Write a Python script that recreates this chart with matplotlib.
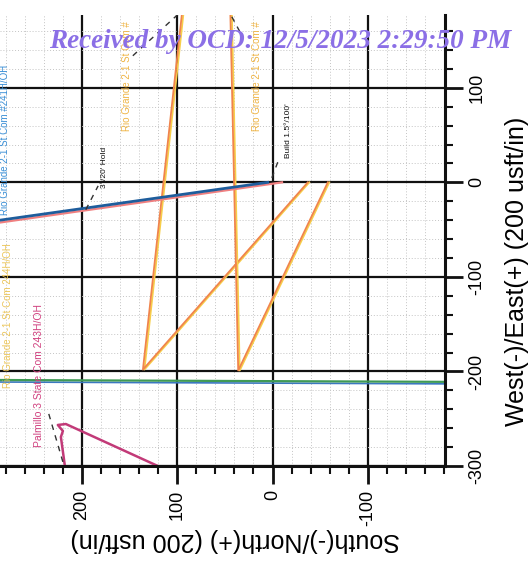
import numpy as np
import matplotlib
matplotlib.use("Agg")
import matplotlib.pyplot as plt
import matplotlib.transforms as mtransforms
from matplotlib.ticker import MultipleLocator

plt.rcParams['font.family'] = ['Liberation Sans', 'DejaVu Sans']

# well paths: (South-/North+, West-/East+) in usft
rg_blue_ns = [300, 5]
rg_blue_ew = [-42, 0]
rg_pink_ns = [300, -10]
rg_pink_ew = [-44.5, 0]
rg_a_ns = [-37, 136, 93.8]
rg_a_ew = [0, -198, 190]
rg_b_ns = [-58, 36, 44.5]
rg_b_ew = [0, -199, 190]
rg_green_ns = [300, -180]
rg_green_ew = [-209, -211]
palm_ns = [120.4, 216.9, 225.3, 220.0, 222.1, 217.9]
palm_ew = [-300, -255.6, -256.6, -263.0, -269.3, -300]
palm_lead_ns = [234.8, 220.0]
palm_lead_ew = [-244.9, -295.7]

hold_lead_ns = [196, 183]
hold_lead_ew = [-29, -3.7]
build_lead_ns = [0.7, -5.6]
build_lead_ew = [4.8, 21.7]
top_lead1_ns = [146.6, 99.4]
top_lead1_ew = [133.9, 177.5]
top_lead2_ns = [42.7, 34.3]
top_lead2_ew = [175.1, 159.3]

x_ticks = [200, 100, 0, -100]
y_ticks = [100, 0, -100, -200, -300]

fig = plt.figure(figsize=(5.31, 5.68), dpi=100)
ax = fig.add_axes([0.0, (568 - 466) / 568, 445 / 531, (466 - 15) / 568])
ax.set_xlim(286, -181)
ax.set_ylim(-300, 177)

# grid
ax.xaxis.set_major_locator(MultipleLocator(100))
ax.xaxis.set_minor_locator(MultipleLocator(20))
ax.yaxis.set_major_locator(MultipleLocator(100))
ax.yaxis.set_minor_locator(MultipleLocator(20))
ax.grid(which='minor', color='#c4c4c4', lw=0.7, ls=(0, (1, 2)))
ax.grid(which='major', color='#111111', lw=1.6)
ax.set_axisbelow(True)

for s in ['top', 'left']:
    ax.spines[s].set_visible(False)
for s in ['right', 'bottom']:
    ax.spines[s].set_linewidth(2.2)
    ax.spines[s].set_color('#111111')

ax.yaxis.tick_right()
ax.yaxis.set_label_position('right')
ax.tick_params(which='major', direction='out', length=13, width=2, color='#111111', labelsize=13, pad=4)
ax.tick_params(which='minor', direction='out', length=6, width=1.5, color='#111111')
ax.set_xticks(x_ticks)
ax.set_xticklabels([str(v) for v in x_ticks], rotation=90)
ax.set_yticks(y_ticks)
ax.set_yticklabels([str(v) for v in y_ticks], rotation=90, va='center')

ax.set_xlabel('South(-)/North(+) (200 usft/in)', fontsize=18, rotation=180)
ax.xaxis.set_label_coords(0.528, -0.137)
ax.set_ylabel('West(-)/East(+) (200 usft/in)', fontsize=18, rotation=90)
ax.yaxis.set_label_coords(1.135, 0.432)

shift = mtransforms.offset_copy(ax.transData, fig=fig, x=1.5, y=0, units='dots')
shift_dn = mtransforms.offset_copy(ax.transData, fig=fig, x=0, y=-2, units='dots')

# wells
ax.plot(rg_green_ns, rg_green_ew, color='#3b78c0', lw=1.2, transform=shift_dn)
ax.plot(rg_green_ns, rg_green_ew, color='#3f9a55', lw=1.6)
ax.plot(rg_a_ns, rg_a_ew, color='#f7cf4a', lw=1.3, transform=shift)
ax.plot(rg_a_ns, rg_a_ew, color='#f0844c', lw=1.3)
ax.plot(rg_b_ns, rg_b_ew, color='#f7cf4a', lw=1.3, transform=shift)
ax.plot(rg_b_ns, rg_b_ew, color='#f0844c', lw=1.3)
ax.plot(rg_pink_ns, rg_pink_ew, color='#f08080', lw=1.6)
ax.plot(rg_blue_ns, rg_blue_ew, color='#1e5d9c', lw=2.0)
ax.plot(palm_ns, palm_ew, color='#c23a78', lw=1.8)

for ns, ew in [(palm_lead_ns, palm_lead_ew), (hold_lead_ns, hold_lead_ew),
               (build_lead_ns, build_lead_ew), (top_lead1_ns, top_lead1_ew),
               (top_lead2_ns, top_lead2_ew)]:
    ax.plot(ns, ew, color='#333333', lw=1.0, ls=(0, (4, 4)))

# labels
ax.text(281, 45, 'Rio Grande 2-1 St Com #241H/OH', color='#3a8fd6', fontsize=7,
        rotation=90, ha='center', va='center')
ax.text(278, -141, 'Rio Grande 2-1 St Com 244H/OH', color='#ecc65a', fontsize=7,
        rotation=90, ha='center', va='center')
ax.text(245, -204, 'Palmillo 3 State Com 243H/OH', color='#d0407e', fontsize=7.5,
        rotation=90, ha='center', va='center')
ax.text(153, 112, 'Rio Grande 2-1 St Com #', color='#efb444', fontsize=7,
        rotation=90, ha='center', va='center')
ax.text(16.5, 112, 'Rio Grande 2-1 St Com #', color='#efb444', fontsize=7,
        rotation=90, ha='center', va='center')
ax.text(176, 16, "3°/20' Hold", color='#111111', fontsize=6,
        rotation=90, ha='center', va='center')
ax.text(-17, 55, "Build 1.5°/100'", color='#111111', fontsize=6,
        rotation=90, ha='center', va='center')

fig.text(280 / 531, 1 - 42 / 568, 'Received by OCD: 12/5/2023 2:29:50 PM',
         family='Liberation Serif', fontweight='bold', fontstyle='italic',
         fontsize=19.5, color='#8b6fe6', ha='center', va='center')

fig.savefig('out.png', dpi=100)
